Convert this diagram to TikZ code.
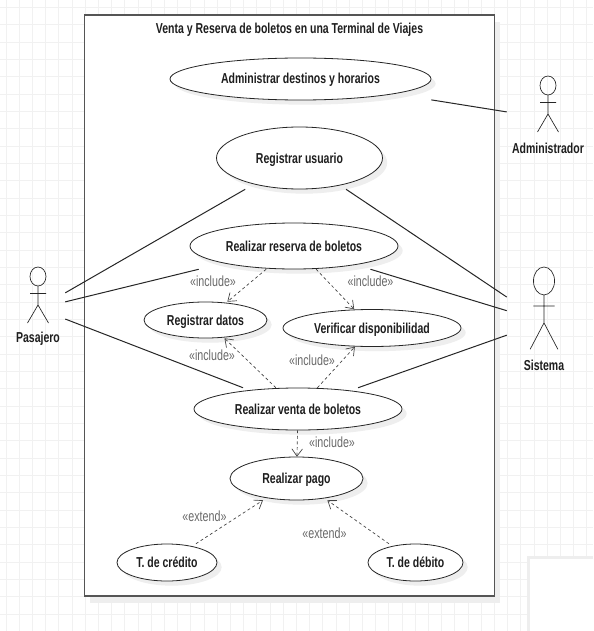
\documentclass[tikz,border=0pt]{standalone}
\usepackage{fontspec}
\setmainfont[FakeStretch=0.73]{Liberation Sans}
\usepackage{xcolor}
\usetikzlibrary{arrows.meta}
\usetikzlibrary{shadows}
\definecolor{gridline}{RGB}{241,241,241}
\definecolor{frameline}{RGB}{85,85,85}
\definecolor{shadowgray}{RGB}{238,238,238}
\definecolor{inktext}{RGB}{30,30,30}
\definecolor{stereotext}{RGB}{105,105,105}
\tikzset{
  caseoval/.style={draw=black!85,line width=0.6pt,fill=white,
    drop shadow={shadow xshift=3.5pt,shadow yshift=-3.5pt,fill=shadowgray,opacity=1}},
  casetext/.style={inner sep=0pt,font=\bfseries\fontsize{10.8}{12}\selectfont,text=inktext,text height=9pt,text depth=1.5pt},
  actorbody/.style={draw=black!85,line width=0.5pt},
  actorname/.style={inner sep=0pt,font=\bfseries\fontsize{10.8}{12}\selectfont,text=inktext},
  assoc/.style={draw=black!85,line width=0.75pt},
  depend/.style={draw=black!75,line width=0.5pt,dash pattern=on 2.2pt off 2pt,
    -{Straight Barb[length=5.5pt,width=8pt]}},
  stereo/.style={inner sep=0pt,font=\fontsize{11}{12}\selectfont,text=stereotext}
}
% ellipse drawn under a box-shaped node: connectors stop on the box
\newcommand{\usecase}[6]{
  \draw[caseoval] (#2,#3) ellipse ({#4/2} and {#5/2});
  \node[casetext,minimum width=#4*0.75pt,minimum height=#5*0.75pt] (#1) at (#2,#3) {#6};
}
\newcommand{\actorfig}[4]{
  \draw[actorbody,shift={(#1,#2)},xscale=#3,yscale=#4]
    (0,9.5) ellipse (8 and 9.5)
    (-8,26.5) -- (8,26.5)
    (0,19) -- (0,38)
    (-10.5,56) -- (0,38) -- (10.5,56);
}
\begin{document}
\begin{tikzpicture}[x=0.75pt,y=0.75pt,yscale=-1,xscale=1]
  \useasboundingbox (0,0) rectangle (593,631);
  % grid paper
  \fill[white] (0,0) rectangle (593,631);
  \foreach \i in {0,...,44} {
    \draw[gridline,line width=0.5pt] ({6+13.2*\i},0) -- ({6+13.2*\i},631);
  }
  \foreach \j in {0,...,36} {
    \draw[gridline,line width=0.5pt] (0,{7.5+17.33*\j}) -- (593,{7.5+17.33*\j});
  }
  % sheet in the corner
  \fill[shadowgray] (527,556) rectangle (593,631);
  \fill[white] (530,559) rectangle (593,631);

  % System box
  \fill[shadowgray] (90,22) rectangle (500,603);
  \draw[draw=frameline,fill=white,line width=0.9pt] (84.5,15) rectangle (494.5,596);
  \node[casetext] (titulo) at (289.5,29) {Venta y Reserva de boletos en una Terminal de Viajes};

  % Use cases
  \usecase{administrar}{300.5}{79}{261}{42}{Administrar destinos y horarios}
  \usecase{registrarUsuario}{299.5}{158}{166}{62}{Registrar usuario}
  \usecase{reserva}{294}{246}{208}{46}{Realizar reserva de boletos}
  \usecase{datos}{205.5}{320}{123}{36}{Registrar datos}
  \usecase{verificar}{372}{328}{178}{37}{Verificar disponibilidad}
  \usecase{venta}{298}{409}{208}{42}{Realizar venta de boletos}
  \usecase{pago}{296.5}{478.5}{133}{43}{Realizar pago}
  \usecase{credito}{167}{562.5}{100}{37}{T. de crédito}
  \usecase{debito}{415.5}{562.5}{95}{37}{T. de débito}

  % Actors
  \actorfig{38}{267}{1}{1}
  \actorfig{548}{76}{1}{1}
  \actorfig{544}{267}{1.32}{1.47}
  \node[actorname] (nombrePasajero) at (38,338.5) {Pasajero};
  \node[actorname] (nombreAdministrador) at (548,148) {Administrador};
  \node[actorname] (nombreSistema) at (544,365) {Sistema};
  \node[minimum width=54*0.75pt,minimum height=90*0.75pt,inner sep=0pt] (pasajero) at (38,308.5) {};
  \node[minimum width=82*0.75pt,minimum height=90*0.75pt,inner sep=0pt] (administrador) at (548,118.5) {};
  \node[minimum width=74*0.75pt,minimum height=110*0.75pt,inner sep=0pt] (sistema) at (544,322) {};

  % Associations
  \draw[assoc] (pasajero) -- (registrarUsuario);
  \draw[assoc] (pasajero) -- (reserva);
  \draw[assoc] (pasajero) -- (venta);
  \draw[assoc] (administrador) -- (administrar);
  \draw[assoc] (sistema) -- (registrarUsuario);
  \draw[assoc] (sistema) -- (reserva);
  \draw[assoc] (sistema) -- (venta);

  % Dependencies
  \draw[depend] (reserva) -- (datos);
  \draw[depend] (reserva) -- (verificar);
  \draw[depend] (venta) -- (datos);
  \draw[depend] (venta) -- (verificar);
  \draw[depend] (venta) -- (pago);
  \draw[depend] (credito) -- (pago);
  \draw[depend] (debito) -- (pago);

  % Text Node
  \node[stereo] (incA) at (213,281) {«include»};
  \node[stereo] (incB) at (370.5,281.5) {«include»};
  \node[stereo] (incC) at (212,355.5) {«include»};
  \node[stereo] (incD) at (312,360) {«include»};
  \node[stereo] (incE) at (332,442) {«include»};
  \node[stereo] (extA) at (204.5,516) {«extend»};
  \node[stereo] (extB) at (324.5,533.5) {«extend»};
\end{tikzpicture}
\end{document}
